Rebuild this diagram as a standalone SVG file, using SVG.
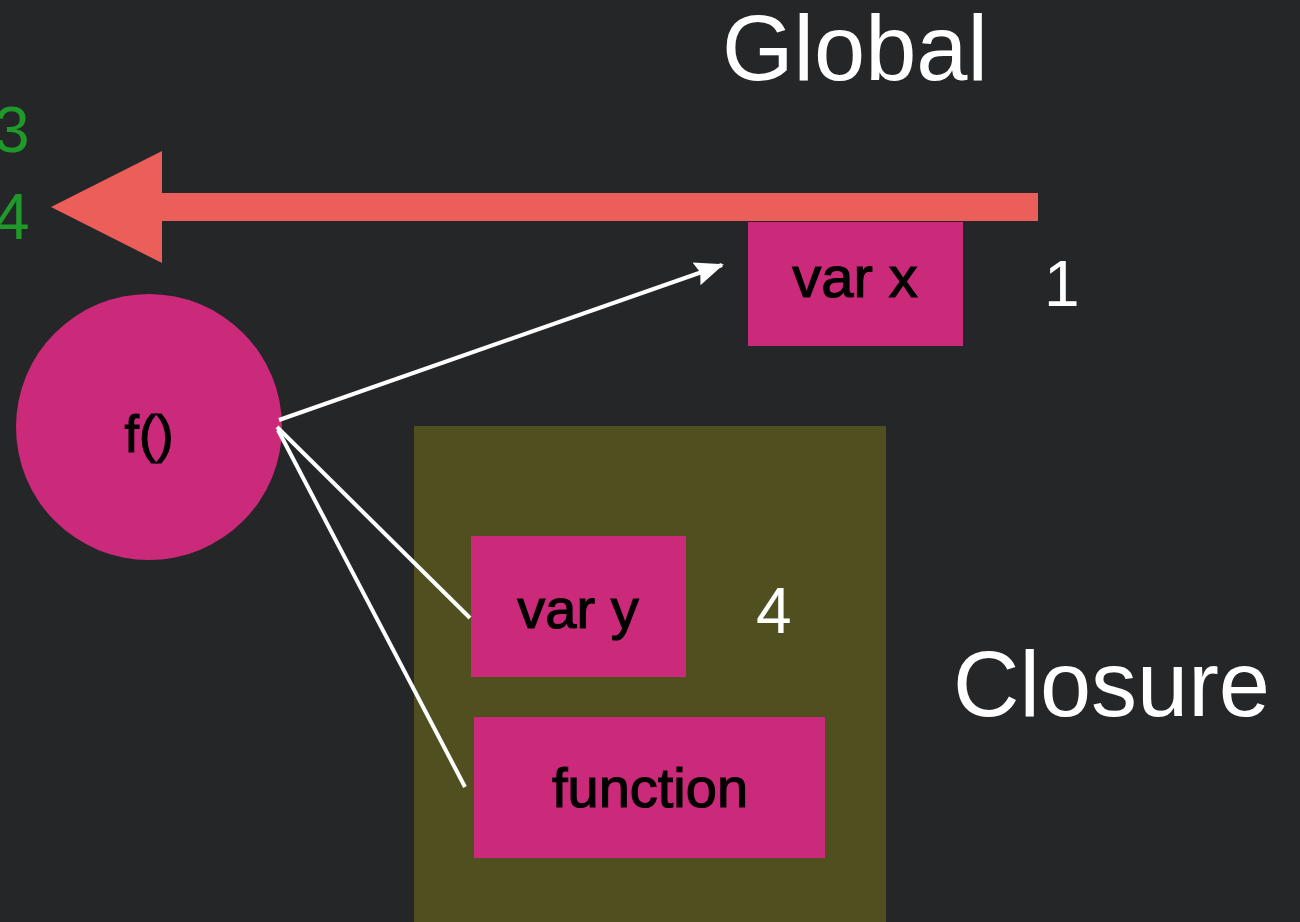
<svg xmlns="http://www.w3.org/2000/svg" width="1300" height="922" viewBox="0 0 1300 922">
<defs>
<style>
.node{fill:#cb2a7b}
.lbl{font-family:"Liberation Sans",Arial,sans-serif;fill:#000;stroke:#000;stroke-width:1.2;text-anchor:middle}
.big{font-family:"Liberation Sans",Arial,sans-serif;fill:#fff;font-size:92px}
.num{font-family:"Liberation Sans",Arial,sans-serif;font-size:64px}
.conn{stroke:#fff;stroke-width:4;fill:none}
</style>
<marker id="ah" markerUnits="userSpaceOnUse" markerWidth="30" markerHeight="28" refX="27" refY="14" orient="auto" viewBox="0 0 30 28">
<path d="M0,2 L29,14 L0,26 L4,14 Z" fill="#fff"/>
</marker>
</defs>
<rect width="1300" height="922" fill="#252628"/>
<g id="closure-area">
<rect x="414" y="426" width="472" height="496" fill="#4f4f20"/>
</g>
<g id="title-global"><text class="big" x="722" y="80">Global</text></g>
<g id="title-closure"><text class="big" x="953" y="716">Closure</text></g>
<g id="stack-numbers">
<text class="num" x="-6" y="152" fill="#1f9a2a" font-size="76">3</text>
<text class="num" x="-6" y="239" fill="#1f9a2a" font-size="76">4</text>
</g>
<g id="big-arrow">
<polygon points="1038,193 162,193 162,151 51,207 162,263 162,221 1038,221" fill="#ec5e5a"/>
</g>
<g id="var-x">
<rect class="node" x="748" y="222" width="215" height="124"/>
<text class="lbl" x="855" y="297" font-size="58">var x</text>
</g>
<g id="val-1"><text class="num" x="1044" y="306" fill="#fff">1</text></g>
<g id="f">
<circle class="node" cx="149" cy="427" r="133"/>
<text class="lbl" x="149" y="452" font-size="52">f()</text>
</g>
<g id="var-y">
<rect class="node" x="471" y="536" width="215" height="141"/>
<text class="lbl" x="578" y="628" font-size="56">var y</text>
</g>
<g id="val-4"><text class="num" x="756" y="633" fill="#fff" font-size="62">4</text></g>
<g id="function">
<rect class="node" x="474" y="717" width="351" height="141"/>
<text class="lbl" x="650" y="807" font-size="56">function</text>
</g>
<g id="connectors">
<line class="conn" x1="279" y1="420" x2="722" y2="265" marker-end="url(#ah)"/>
<line class="conn" x1="277" y1="427" x2="470" y2="618"/>
<line class="conn" x1="278" y1="430" x2="465" y2="787"/>
</g>
</svg>
